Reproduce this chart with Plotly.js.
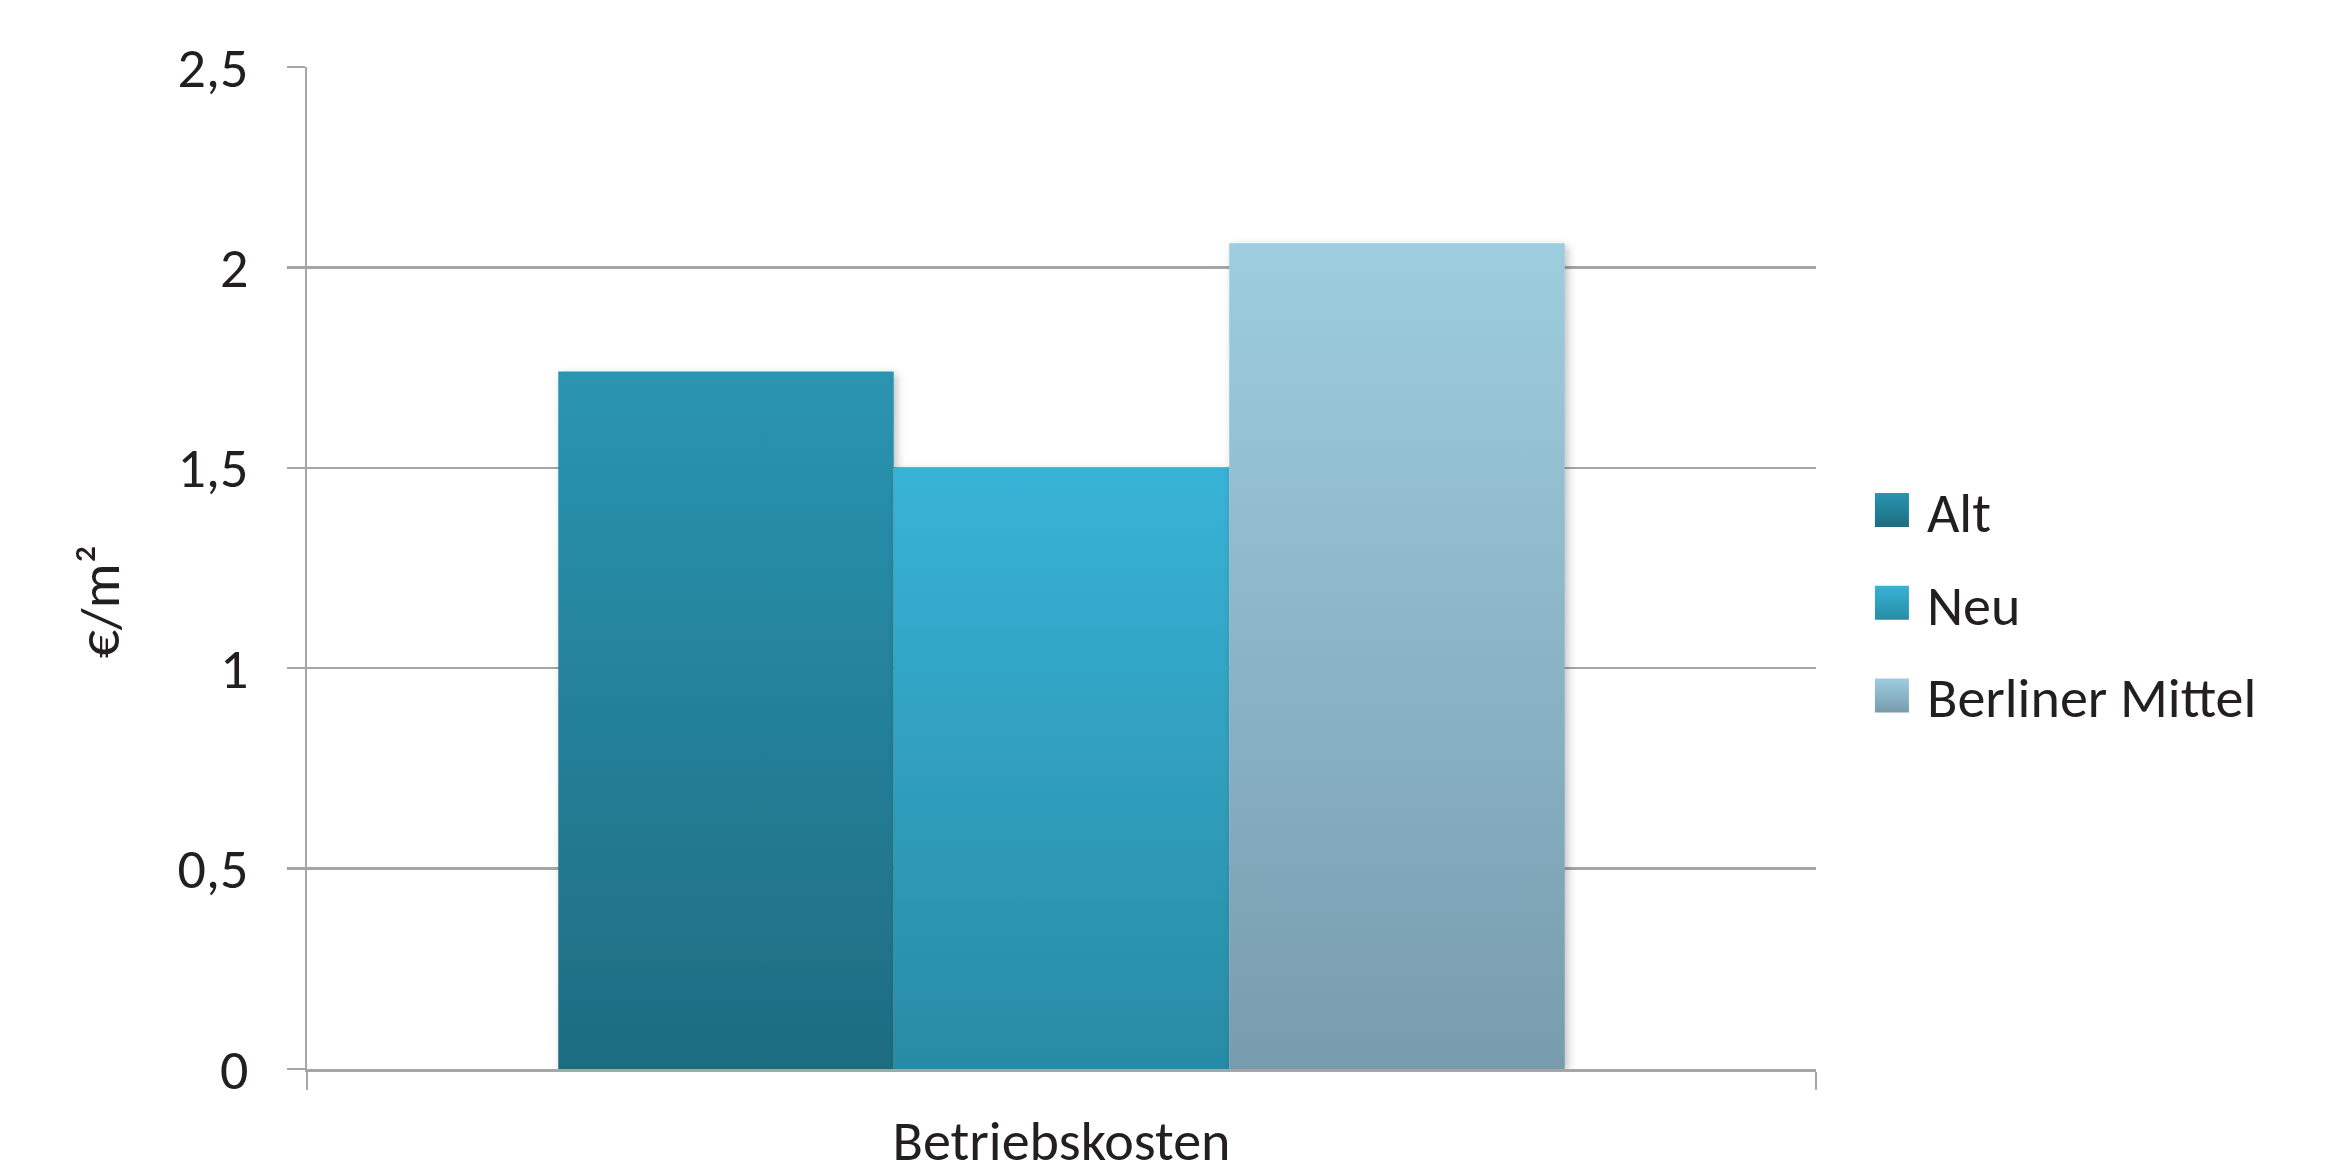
<!DOCTYPE html>
<html>
<head>
<meta charset="utf-8">
<script src="https://cdn.plot.ly/plotly-3.0.1.min.js"></script>
<style>
  html, body { margin: 0; padding: 0; background: #fff; }
  #chart { width: 2347px; height: 1176px; }
</style>
</head>
<body>
<div id="chart"></div>
<script>
// ---- data ----
const categories = ['Betriebskosten'];
const seriesNames = ['Alt', 'Neu', 'Berliner Mittel'];
const altValues = [1.74];
const neuValues = [1.50];
const berlinerValues = [2.06];
const yTickVals = [0, 0.5, 1, 1.5, 2, 2.5];
const yTickText = ['0', '0,5', '1', '1,5', '2', '2,5'];
const yTitle = '€/m²';

// ---- styles ----
const gradTop = ['#2A95B1', '#38B3D7', '#9ECDE0'];
const gradBottom = ['#1E6C80', '#288BA5', '#779CAD'];
const fontFamily = 'Carlito, Lato, "Liberation Sans", sans-serif';
const fontSize = 56;
const textColor = '#231F20';
const gridColor = '#A6A6A6';

const seriesValues = [altValues, neuValues, berlinerValues];
const traces = seriesNames.map((name, i) => ({
  type: 'bar',
  name: name,
  x: categories,
  y: seriesValues[i],
  legendgroup: 'g' + i,
  marker: { color: gradTop[i], line: { width: 0 } },
  hoverinfo: 'skip'
}));

const layout = {
  width: 2347,
  height: 1176,
  paper_bgcolor: '#ffffff',
  plot_bgcolor: '#ffffff',
  margin: { l: 307, r: 531, t: 67, b: 107, pad: 0 },
  barmode: 'group',
  bargap: 0.333,
  bargroupgap: 0,
  separators: ',.',
  font: { family: fontFamily, size: fontSize, color: textColor },
  showlegend: true,
  legend: {
    x: 1.047, xanchor: 'left',
    y: 0.465, yanchor: 'middle',
    font: { family: fontFamily, size: fontSize, color: textColor },
    traceorder: 'grouped',
    tracegroupgap: 17,
    bgcolor: 'rgba(0,0,0,0)'
  },
  xaxis: {
    type: 'category',
    range: [-0.5, 0.5],
    showgrid: false,
    showline: true,
    linecolor: gridColor,
    linewidth: 2.5,
    ticks: 'outside',
    tickson: 'boundaries',
    ticklen: 18,
    tickwidth: 2,
    tickcolor: gridColor,
    ticklabelstandoff: 21,
    tickfont: { family: fontFamily, size: fontSize, color: textColor },
    fixedrange: true
  },
  yaxis: {
    range: [0, 2.5],
    tickvals: yTickVals,
    ticktext: yTickText,
    showgrid: true,
    gridcolor: gridColor,
    gridwidth: 2.5,
    zeroline: false,
    showline: true,
    linecolor: gridColor,
    linewidth: 2.5,
    ticks: 'outside',
    ticklen: 18,
    tickwidth: 2.5,
    tickcolor: gridColor,
    ticklabelstandoff: 27,
    tickfont: { family: fontFamily, size: fontSize, color: textColor },
    fixedrange: true
  },
  annotations: [{
    text: yTitle,
    xref: 'paper', yref: 'paper',
    x: -0.137, y: 0.467,
    xanchor: 'center', yanchor: 'middle',
    textangle: -90,
    showarrow: false,
    font: { family: fontFamily, size: fontSize, color: textColor }
  }]
};

const gd = document.getElementById('chart');
Plotly.newPlot(gd, traces, layout, { staticPlot: true, displayModeBar: false }).then(() => {
  const NS = 'http://www.w3.org/2000/svg';
  const svg = gd.querySelector('.main-svg');
  let defs = svg.querySelector('defs');
  if (!defs) { defs = document.createElementNS(NS, 'defs'); svg.insertBefore(defs, svg.firstChild); }
  // gradients
  seriesNames.forEach((n, i) => {
    const lg = document.createElementNS(NS, 'linearGradient');
    lg.setAttribute('id', 'barGrad' + i);
    lg.setAttribute('x1', '0'); lg.setAttribute('y1', '0');
    lg.setAttribute('x2', '0'); lg.setAttribute('y2', '1');
    const s1 = document.createElementNS(NS, 'stop');
    s1.setAttribute('offset', '0'); s1.setAttribute('stop-color', gradTop[i]);
    const s2 = document.createElementNS(NS, 'stop');
    s2.setAttribute('offset', '1'); s2.setAttribute('stop-color', gradBottom[i]);
    lg.appendChild(s1); lg.appendChild(s2);
    defs.appendChild(lg);
  });
  // soft shadow
  const f = document.createElementNS(NS, 'filter');
  f.setAttribute('id', 'barShadow');
  f.setAttribute('x', '-5%'); f.setAttribute('y', '-5%');
  f.setAttribute('width', '115%'); f.setAttribute('height', '115%');
  const ds = document.createElementNS(NS, 'feDropShadow');
  ds.setAttribute('dx', '3'); ds.setAttribute('dy', '3');
  ds.setAttribute('stdDeviation', '4');
  ds.setAttribute('flood-color', '#000'); ds.setAttribute('flood-opacity', '0.25');
  f.appendChild(ds);
  defs.appendChild(f);

  gd.querySelectorAll('.barlayer .trace').forEach((tr, i) => {
    tr.querySelectorAll('.point path').forEach(p => {
      p.style.fill = 'url(#barGrad' + i + ')';
      p.setAttribute('filter', 'url(#barShadow)');
    });
  });
  gd.querySelectorAll('.legend .scrollbox').forEach(sb => sb.removeAttribute('clip-path'));
  gd.querySelectorAll('.legend .traces').forEach((tr, i) => {
    tr.querySelectorAll('.legendpoints path').forEach(p => {
      p.setAttribute('d', 'M-32,-17H2V17H-32Z');
      p.style.fill = 'url(#barGrad' + i + ')';
      p.style.stroke = 'none';
    });
  });
});
</script>
</body>
</html>
